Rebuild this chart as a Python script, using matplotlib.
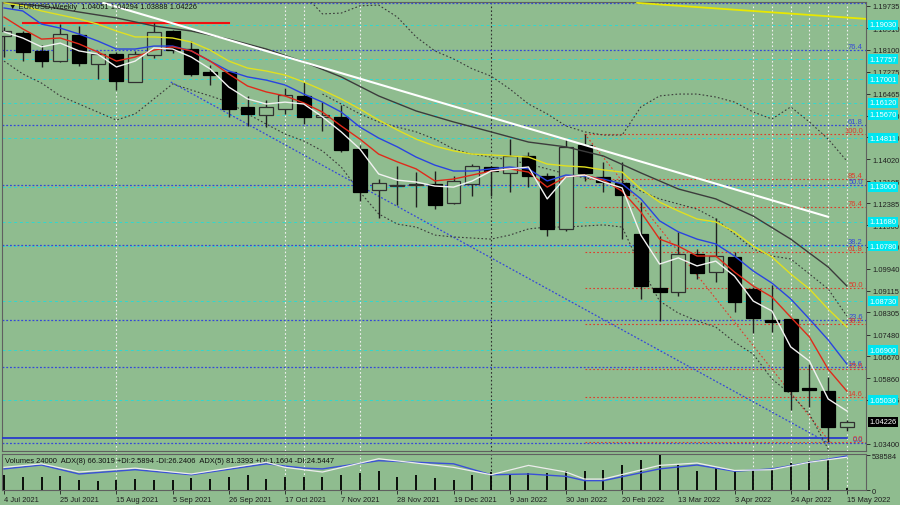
import matplotlib
matplotlib.use('Agg')
import matplotlib.pyplot as plt
import matplotlib.transforms as mtransforms
from matplotlib.patches import Rectangle

BG = '#8fbc8f'

# weekly candles, 4 Jul 2021 .. 15 May 2022
opens = [1.1862, 1.1874, 1.1807, 1.1769, 1.1865, 1.1757, 1.1794, 1.1689, 1.1791, 1.1879,
         1.1813, 1.1729, 1.1726, 1.1596, 1.1567, 1.1589, 1.1638, 1.1560, 1.1559, 1.1440,
         1.1287, 1.1303, 1.1306, 1.1310, 1.1239, 1.1310, 1.1373, 1.1351, 1.1414, 1.1339,
         1.1142, 1.1455, 1.1336, 1.1313, 1.1123, 1.0922, 1.0907, 1.1048, 1.0981, 1.1037,
         1.0918, 1.0803, 1.0806, 1.0549, 1.0537, 1.04051]
highs = [1.1895, 1.1880, 1.1829, 1.1906, 1.1899, 1.1805, 1.1801, 1.1807, 1.1910, 1.1884,
         1.1844, 1.1753, 1.1729, 1.1637, 1.1623, 1.1666, 1.1690, 1.1615, 1.1604, 1.1455,
         1.1328, 1.1377, 1.1354, 1.1358, 1.1338, 1.1383, 1.1377, 1.1477, 1.1429, 1.1352,
         1.1477, 1.1496, 1.1392, 1.1392, 1.1242, 1.1116, 1.1131, 1.1067, 1.1183, 1.1056,
         1.0925, 1.0933, 1.0806, 1.0638, 1.0590, 1.04294]
lows = [1.1782, 1.1768, 1.1747, 1.1765, 1.1751, 1.1701, 1.1661, 1.1689, 1.1778, 1.1798,
        1.1713, 1.1679, 1.1559, 1.1527, 1.1524, 1.1571, 1.1533, 1.1507, 1.1429, 1.1246,
        1.1183, 1.1231, 1.1224, 1.1216, 1.1235, 1.1265, 1.1265, 1.1280, 1.1298, 1.1116,
        1.1135, 1.1321, 1.1280, 1.1104, 1.0881, 1.0799, 1.0892, 1.0955, 1.0944, 1.0832,
        1.0754, 1.0757, 1.0467, 1.0478, 1.0349, 1.03888]
closes = [1.1880, 1.1803, 1.1767, 1.1869, 1.1760, 1.1794, 1.1695, 1.1794, 1.1875, 1.1811,
          1.1720, 1.1717, 1.1589, 1.1571, 1.1596, 1.1641, 1.1560, 1.1567, 1.1437, 1.1280,
          1.1313, 1.1307, 1.1310, 1.1231, 1.1321, 1.1377, 1.1358, 1.1414, 1.1339, 1.1142,
          1.1448, 1.1351, 1.1317, 1.1268, 1.0929, 1.0907, 1.1048, 1.0977, 1.1041, 1.0869,
          1.0810, 1.0795, 1.0537, 1.0542, 1.0403, 1.04226]
volumes = [230000, 210000, 210000, 220000, 161000, 137000, 161000, 171000, 161000, 161000,
           181000, 171000, 196000, 230000, 171000, 196000, 205000, 210000, 230000, 259000,
           294000, 196000, 230000, 191000, 161000, 230000, 279000, 245000, 259000, 269000,
           294000, 294000, 308000, 392000, 475000, 538584, 392000, 303000, 343000, 303000,
           318000, 328000, 416000, 455000, 465000, 24000]

date_labels = ['4 Jul 2021', '25 Jul 2021', '15 Aug 2021', '5 Sep 2021', '26 Sep 2021',
               '17 Oct 2021', '7 Nov 2021', '28 Nov 2021', '19 Dec 2021', '9 Jan 2022',
               '30 Jan 2022', '20 Feb 2022', '13 Mar 2022', '3 Apr 2022', '24 Apr 2022',
               '15 May 2022']
date_pos = [0, 3, 6, 9, 12, 15, 18, 21, 24, 27, 30, 33, 36, 39, 42, 45]

# moving averages
ma_white = [1.1877, 1.1854, 1.1821, 1.1835, 1.1806, 1.1794, 1.1746, 1.1768, 1.1817, 1.1813,
            1.1783, 1.1739, 1.1671, 1.1627, 1.1608, 1.1615, 1.1608, 1.1560, 1.1504, 1.1440,
            1.1347, 1.1324, 1.1317, 1.1302, 1.1298, 1.1321, 1.1358, 1.1366, 1.1373, 1.1254,
            1.1336, 1.1343, 1.1317, 1.1295, 1.1119, 1.1011, 1.1034, 1.1004, 1.1022, 1.0966,
            1.0873, 1.0836, 1.0702, 1.0649, 1.0508, 1.0463]
ma_red = [1.1932, 1.1888, 1.1850, 1.1854, 1.1832, 1.1802, 1.1768, 1.1783, 1.1809, 1.1821,
          1.1806, 1.1768, 1.1720, 1.1675, 1.1653, 1.1638, 1.1612, 1.1578, 1.1526, 1.1477,
          1.1421, 1.1392, 1.1366, 1.1321, 1.1328, 1.1343, 1.1358, 1.1366, 1.1354, 1.1298,
          1.1336, 1.1343, 1.1324, 1.1283, 1.1205, 1.1104, 1.1078, 1.1041, 1.1041, 1.0981,
          1.0929, 1.0888, 1.0813, 1.0739, 1.0619, 1.0537]
ma_blue = [1.1966, 1.1955, 1.1906, 1.1891, 1.1869, 1.1843, 1.1813, 1.1813, 1.1824, 1.1824,
           1.1806, 1.1768, 1.1731, 1.1709, 1.1697, 1.1679, 1.1645, 1.1615, 1.1578, 1.1522,
           1.1481, 1.1448, 1.1410, 1.1380, 1.1358, 1.1358, 1.1366, 1.1373, 1.1366, 1.1321,
           1.1343, 1.1339, 1.1328, 1.1310, 1.1254, 1.1172, 1.1131, 1.1104, 1.1086, 1.1041,
           1.0985, 1.0940, 1.0881, 1.0806, 1.0728, 1.0638]
ma_yellow = [1.1985, 1.1974, 1.1955, 1.1940, 1.1925, 1.1906, 1.1880, 1.1858, 1.1858, 1.1854,
             1.1839, 1.1809, 1.1768, 1.1742, 1.1731, 1.1716, 1.1690, 1.1660, 1.1627, 1.1589,
             1.1548, 1.1511, 1.1477, 1.1451, 1.1433, 1.1421, 1.1418, 1.1414, 1.1410, 1.1384,
             1.1377, 1.1373, 1.1362, 1.1354, 1.1291, 1.1242, 1.1209, 1.1179, 1.1168, 1.1131,
             1.1078, 1.1037, 1.0974, 1.0918, 1.0843, 1.0776]
ma_dark_pos = [0, 2, 4, 6, 8, 10, 12, 14, 16, 18, 20, 22, 24, 26, 28, 30, 32, 34, 36, 38, 40, 42, 44, 45]
ma_dark = [1.1985, 1.1974, 1.1951, 1.1929, 1.1899, 1.1880, 1.1850, 1.1813, 1.1765, 1.1709,
           1.1638, 1.1582, 1.1541, 1.1504, 1.1466, 1.1448, 1.1414, 1.1351, 1.1291, 1.1254,
           1.1190, 1.1104, 1.1000, 1.0929]

# bands (dotted)
band_up_pos = list(range(16, 46))
band_up = [1.2018, 1.1944, 1.1947, 1.1974, 1.1977, 1.1932, 1.1858, 1.1806, 1.1776, 1.1739,
           1.1712, 1.1664, 1.1608, 1.1571, 1.1526, 1.1504, 1.1492, 1.1492, 1.1597, 1.1638,
           1.1645, 1.1645, 1.1634, 1.1615, 1.1578, 1.1552, 1.1597, 1.1541, 1.1477, 1.1395]
band_mid_pos = list(range(17, 46))
band_mid = [1.1645, 1.1608, 1.1571, 1.1541, 1.1522, 1.1504, 1.1477, 1.1440, 1.1421, 1.1410,
            1.1399, 1.1384, 1.1366, 1.1347, 1.1332, 1.1324, 1.1321, 1.1283, 1.1254, 1.1235,
            1.1216, 1.1179, 1.1123, 1.1067, 1.1041, 1.1030, 1.0974, 1.0918, 1.0817]
band_low = [1.1768, 1.1720, 1.1686, 1.1638, 1.1608, 1.1578, 1.1548, 1.1571, 1.1627, 1.1683,
            1.1660, 1.1638, 1.1615, 1.1571, 1.1533, 1.1496, 1.1470, 1.1433, 1.1373, 1.1280,
            1.1198, 1.1160, 1.1149, 1.1119, 1.1112, 1.1108, 1.1104, 1.1119, 1.1142, 1.1149,
            1.1149, 1.1153, 1.1157, 1.1149, 1.1000, 1.0873, 1.0828, 1.0799, 1.0776, 1.0720,
            1.0675, 1.0582, 1.0526, 1.0452, 1.0321, 1.0246]

# ADX window lines
adx_blue_pos = [0, 2, 4, 7, 10, 14, 16, 17, 20, 24, 26, 28, 30, 31, 32, 35, 37, 39, 41, 43, 45]
adx_blue = [64, 74, 51, 62, 49, 77, 66, 64, 85, 77, 49, 51, 45, 34, 34, 64, 74, 58, 64, 81, 97]
adx_white_pos = [0, 2, 4, 7, 10, 14, 15, 17, 20, 24, 26, 28, 30, 31, 32, 35, 37, 39, 41, 43, 45]
adx_white = [68, 77, 56, 66, 51, 81, 68, 56, 90, 68, 49, 73, 56, 38, 38, 73, 79, 60, 62, 81, 94]

# horizontal levels
cyan_levels = [1.19030, 1.17757, 1.17001, 1.16120, 1.15670, 1.14811,
               1.13000, 1.11680, 1.10780, 1.08730, 1.06900, 1.05030]
blue_fib_names = ['76.4', '61.8', '50.0', '38.2', '23.6', '14.6', '0.0']
blue_fib_levels = [1.1809, 1.1530, 1.1306, 1.1082, 1.0802, 1.0627, 1.0344]
red_fib_names = ['100.0', '85.4', '76.4', '61.8', '50.0', '38.2', '23.6', '14.6', '0.0']
red_fib_levels = [1.1495, 1.1328, 1.1225, 1.1057, 1.0922, 1.0787, 1.0619, 1.0516, 1.0349]
red_fib_start = 31
price_ticks = [1.19735, 1.18910, 1.18100, 1.17275, 1.16465, 1.15640, 1.14830, 1.14020,
               1.13195, 1.12385, 1.11560, 1.10750, 1.09940, 1.09115, 1.08305, 1.07480,
               1.06670, 1.05860, 1.05045, 1.03400]
last_price = 1.04226

# drawn objects (bar index, price)
white_trend = ([5.3, 44.0], [1.1985, 1.1187])
yellow_trend = ([33.8, 46.1], [1.1985, 1.1925])
red_hline = ([1.0, 12.0], [1.1910, 1.1910])
blue_channel = ([8.9, 44.1], [1.1690, 1.0340])
red_diag = ([31.0, 44.1], [1.1496, 1.0347])
blue_solid = ([-0.2, 45.0], [1.0362, 1.0362])
top_blue = 1.1985
white_vlines = [6, 15, 16, 19, 40, 41, 42, 43, 44, 45]
black_vlines = [26]

plt.rcParams['font.family'] = ['Liberation Sans', 'DejaVu Sans']
FS = 5.4

fig = plt.figure(figsize=(9, 5.06), dpi=100, facecolor=BG)
ax = fig.add_axes([0.002, 0.1067, 0.96, 0.8874], facecolor=BG)
vax = fig.add_axes([0.002, 0.0296, 0.96, 0.0711], facecolor=BG)

XL = (-0.12, 46.01)
ax.set_xlim(*XL)
ax.set_ylim(1.03137, 1.19884)

# grid-ish verticals
for a in (ax, vax):
    for v in white_vlines:
        a.axvline(v, color='#f0f0f0', lw=0.8, ls=(0, (1.5, 2)), zorder=1)
    for v in black_vlines:
        a.axvline(v, color='#303030', lw=0.8, ls=(0, (1.5, 2)), zorder=1)

# horizontal levels
for lv in cyan_levels:
    ax.axhline(lv, color='#30d8d0', lw=0.7, ls=(0, (3, 3)), zorder=2)
for lv in blue_fib_levels:
    ax.axhline(lv, color='#3548d8', lw=0.9, ls=(0, (1.5, 1.5)), zorder=2)
ax.axhline(top_blue, color='#3548d8', lw=0.9, ls=(0, (1.5, 1.5)), zorder=2)
for lv in red_fib_levels:
    ax.plot([red_fib_start, XL[1]], [lv, lv], color='#e03a2a', lw=0.8,
            ls=(0, (1.5, 2)), zorder=2)

tx = 45.85
for nm, lv in zip(blue_fib_names, blue_fib_levels):
    ax.text(tx, lv, nm, color='#3548d8', fontsize=FS, ha='right', va='bottom', zorder=9)
for nm, lv in zip(red_fib_names, red_fib_levels):
    ax.text(tx, lv, nm, color='#e03a2a', fontsize=FS, ha='right', va='bottom', zorder=9)

# drawn trend lines
ax.plot(*blue_solid, color='#2030d0', lw=1.2, zorder=3)
ax.plot(*blue_channel, color='#3548d8', lw=0.9, ls=(0, (1.5, 1.5)), zorder=3)
ax.plot(*red_diag, color='#e03a2a', lw=0.8, ls=(0, (1.5, 2)), zorder=3)
ax.plot(*red_hline, color='#f01010', lw=1.5, zorder=3)
ax.plot(*white_trend, color='white', lw=1.5, zorder=7)
ax.plot(*yellow_trend, color='#e8e800', lw=1.3, zorder=7)

# bands
band_style = dict(color='#3a3a3a', lw=0.8, ls=(0, (1.5, 2)), zorder=4)
ax.plot(band_up_pos, band_up, **band_style)
ax.plot(band_mid_pos, band_mid, **band_style)
ax.plot(range(len(band_low)), band_low, **band_style)

# candles
for i, (o, h, l, c) in enumerate(zip(opens, highs, lows, closes)):
    ax.vlines(i, l, h, color='#202020', lw=1.0, zorder=5)
    bottom = min(o, c)
    height = max(abs(c - o), 0.00025)
    if c >= o:
        rect = Rectangle((i - 0.37, bottom), 0.74, height, facecolor=BG,
                         edgecolor='#303030', lw=0.9, zorder=5.5)
    else:
        rect = Rectangle((i - 0.37, bottom), 0.74, height, facecolor='black',
                         edgecolor='black', lw=0.9, zorder=5.5)
    ax.add_patch(rect)

# moving averages
idx = list(range(len(closes)))
ax.plot(ma_dark_pos, ma_dark, color='#3c3c3c', lw=1.0, zorder=6)
ax.plot(idx, ma_yellow, color='#e0e020', lw=1.0, zorder=6)
ax.plot(idx, ma_blue, color='#2a44e0', lw=1.0, zorder=6)
ax.plot(idx, ma_red, color='#e02a1a', lw=1.0, zorder=6)
ax.plot(idx, ma_white, color='#f2f2f2', lw=1.0, zorder=6)

# right price axis
ax.yaxis.tick_right()
ax.set_yticks(price_ticks)
ax.set_yticklabels([f'{p:.5f}' for p in price_ticks])
ax.tick_params(axis='y', labelsize=FS, length=3, pad=1.5, colors='#202020', width=0.6)
ax.set_xticks([])
for s in ax.spines.values():
    s.set_color('#606060')
    s.set_linewidth(0.8)

trans = mtransforms.blended_transform_factory(ax.transAxes, ax.transData)
for lv in cyan_levels:
    ax.text(1.004, lv, f'{lv:.5f}', transform=trans, fontsize=FS, color='white',
            ha='left', va='center', clip_on=False, zorder=10,
            bbox=dict(boxstyle='square,pad=0.2', fc='#00e6f0', ec='none'))
ax.text(1.004, last_price, f'{last_price:.5f}', transform=trans, fontsize=FS, color='white',
        ha='left', va='center', clip_on=False, zorder=10,
        bbox=dict(boxstyle='square,pad=0.2', fc='black', ec='none'))

ax.text(0.008, 0.997, '\u25bc EURUSD,Weekly  1.04051 1.04294 1.03888 1.04226',
        transform=ax.transAxes, fontsize=FS, color='#101010', ha='left', va='top', zorder=10)

# volume / ADX window
vax.set_xlim(*XL)
vax.set_ylim(0, 560000)
vax.vlines(idx, 0, volumes, color='black', lw=1.3, zorder=3)
adx = vax.twinx()
adx.set_ylim(10, 102)
adx.plot(adx_blue_pos, adx_blue, color='#3a4fd8', lw=1.0, zorder=4)
adx.plot(adx_white_pos, adx_white, color='#ececec', lw=0.9, zorder=4)
adx.set_yticks([])
adx.set_xlim(*XL)
for s in adx.spines.values():
    s.set_visible(False)

vax.yaxis.tick_right()
vax.set_yticks([0, 538584])
vax.set_yticklabels(['0', '538584'])
vax.tick_params(axis='y', labelsize=FS, length=3, pad=1.5, colors='#202020', width=0.6)
vax.set_xticks(date_pos)
vax.set_xticklabels(date_labels)
for lbl in vax.get_xticklabels():
    lbl.set_ha('left')
vax.tick_params(axis='x', labelsize=FS, length=3, pad=1.5, colors='#202020', width=0.6)
for s in vax.spines.values():
    s.set_color('#606060')
    s.set_linewidth(0.8)
vax.text(0.004, 0.93, 'Volumes 24000  ADX(8) 66.3019 +DI:2.5894 -DI:26.2406  '
         'ADX(5) 81.3393 +DI:1.1604 -DI:24.5447', transform=vax.transAxes,
         fontsize=FS, color='#101010', ha='left', va='top', zorder=10)

fig.savefig('out.png', dpi=100, facecolor=BG)
